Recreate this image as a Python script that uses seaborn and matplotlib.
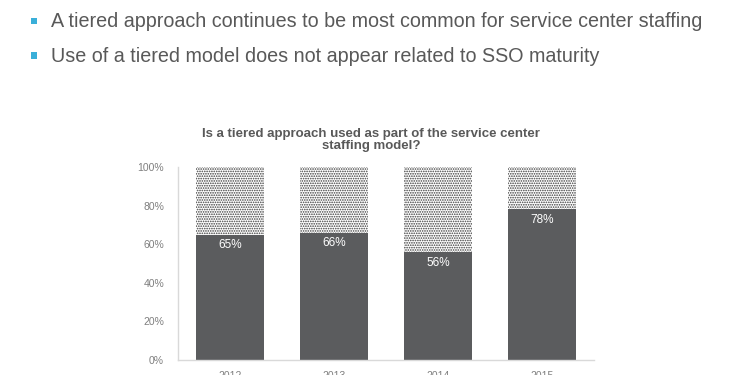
import matplotlib
matplotlib.use("Agg")
import matplotlib.pyplot as plt
from matplotlib.patches import Rectangle
import seaborn as sns
import pandas as pd

# data
years = ["2012", "2013", "2014", "2015"]
tiered = [65, 66, 56, 78]
not_tiered = [100 - v for v in tiered]

bullets = [
    "A tiered approach continues to be most common for service center staffing",
    "Use of a tiered model does not appear related to SSO maturity",
]
chart_title = "Is a tiered approach used as part of the service center\nstaffing model?"

sns.set_theme(style="white")
plt.rcParams['font.family'] = ['Liberation Sans', 'DejaVu Sans']
plt.rcParams['hatch.color'] = '#3a3a3a'
plt.rcParams['hatch.linewidth'] = 0.8

df = pd.DataFrame({"year": years, "tiered": tiered, "total": [t + n for t, n in zip(tiered, not_tiered)]})

fig = plt.figure(figsize=(7.4, 3.75), dpi=100)
ax = fig.add_axes([0.2405, 0.04, 0.5622, 0.5147])

# stacked: full bar (hatched top) then the dark part over it
sns.barplot(data=df, x="year", y="total", color="white", width=0.65, ax=ax, saturation=1)
for p in ax.patches:
    p.set_hatch('.......')
    p.set_edgecolor('#3a3a3a')
    p.set_linewidth(0)
n_top = len(ax.patches)
sns.barplot(data=df, x="year", y="tiered", color="#5b5c5e", width=0.65, ax=ax, saturation=1)
for p in ax.patches[n_top:]:
    p.set_hatch(None)
    p.set_linewidth(0)

for i, v in enumerate(tiered):
    ax.text(i, v - 5.5, f"{v}%", ha="center", va="center", color="white", fontsize=8.5)

ax.set_ylim(0, 100)
ax.set_xlim(-0.5, 3.5)
ax.set_yticks(range(0, 101, 20))
ax.set_yticklabels([f"{t}%" for t in range(0, 101, 20)])
ax.tick_params(axis='both', colors='#7f7f7f', labelsize=7.5, length=0, pad=10)
ax.tick_params(axis='x', pad=8)
ax.set_xlabel("")
ax.set_ylabel("")
for s in ["top", "right"]:
    ax.spines[s].set_visible(False)
for s in ["left", "bottom"]:
    ax.spines[s].set_color("#d9d9d9")
    ax.spines[s].set_linewidth(1)

fig.text(371 / 740, 1 - 140 / 375, chart_title, ha="center", va="center", fontsize=9.5,
         fontweight="bold", color="#595959", linespacing=1.05)

# slide bullets
for k, line in enumerate(bullets):
    yc = 21.5 + 34.5 * k
    fig.patches.append(Rectangle((31 / 740, 1 - (yc + 2.5) / 375), 6 / 740, 6 / 375,
                                 transform=fig.transFigure, color="#3aafd9", linewidth=0))
    fig.text(51 / 740, 1 - yc / 375, line, ha="left", va="center", fontsize=14.2,
             color="#595959")

fig.savefig("out.png", dpi=100)
